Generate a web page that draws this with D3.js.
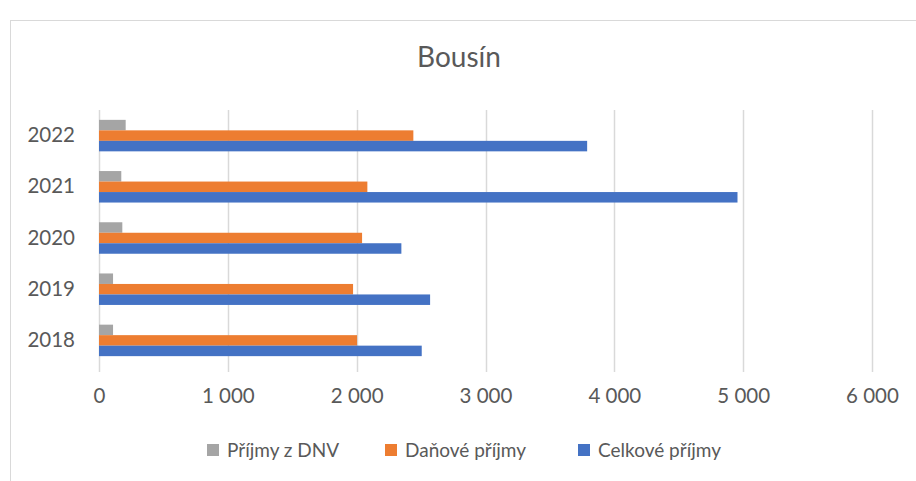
<!DOCTYPE html>
<html>
<head>
<meta charset="utf-8">
<script src="https://cdn.jsdelivr.net/npm/d3@7"></script>
<style>
  body { margin: 0; background: #fff; }
  svg { display: block; font-family: Lato, "Open Sans", sans-serif; }
</style>
</head>
<body>
<div class="chart"></div>
<script>
const years = ['2022', '2021', '2020', '2019', '2018'];
const seriesNames = ['Příjmy z DNV', 'Daňové příjmy', 'Celkové příjmy'];
const prijmyDNV = [207, 173, 181, 109, 109];
const danovePrijmy = [2440, 2083, 2042, 1972, 2003];
const celkovePrijmy = [3789, 4956, 2347, 2570, 2505];
const xTicks = [0, 1000, 2000, 3000, 4000, 5000, 6000];
const colors = ['#A5A5A5', '#ED7D31', '#4472C4'];

const W = 916, H = 481;
const margin = {top: 110, right: 44, bottom: 115, left: 99};
const graphWidth = W - margin.left - margin.right;
const graphHeight = H - margin.top - margin.bottom;

const svg = d3.select('.chart')
  .append('svg')
    .attr('width', W)
    .attr('height', H);

// chart border
svg.append('rect')
  .attr('x', 10.5).attr('y', 20.5)
  .attr('width', W).attr('height', H)
  .attr('fill', 'none')
  .attr('stroke', '#D9D9D9');

svg.append('text')
  .attr('x', 459).attr('y', 67)
  .attr('text-anchor', 'middle')
  .attr('font-size', 28)
  .attr('fill', '#595959')
  .text('Bousín');

const graph = svg.append('g')
  .attr('transform', `translate(${margin.left}, ${margin.top})`);

const x = d3.scaleLinear()
  .domain([0, 6000])
  .range([0, graphWidth]);

const y = d3.scaleBand()
  .domain(years)
  .range([0, graphHeight])
  .paddingInner(0.385)
  .paddingOuter(0.1925);

const yInner = d3.scaleBand()
  .domain(seriesNames)
  .range([0, y.bandwidth()]);

const locale = d3.formatLocale({decimal: ',', thousands: '\u00a0', grouping: [3], currency: ['', ' Kč']});
const fmt = locale.format(',d');

// gridlines
graph.append('g')
  .selectAll('line')
  .data(xTicks)
  .join('line')
    .attr('x1', d => Math.round(x(d)) + 0.5)
    .attr('x2', d => Math.round(x(d)) + 0.5)
    .attr('y1', 0)
    .attr('y2', graphHeight + 6)
    .attr('stroke', '#D9D9D9')
    .attr('stroke-width', 1.5);

const data = years.map((yr, i) => ({
  year: yr,
  values: [prijmyDNV[i], danovePrijmy[i], celkovePrijmy[i]]
}));

const groups = graph.selectAll('g.year')
  .data(data)
  .join('g')
    .attr('class', 'year')
    .attr('transform', d => `translate(0, ${y(d.year)})`);

groups.selectAll('rect')
  .data(d => d.values.map((v, j) => ({name: seriesNames[j], value: v, j})))
  .join('rect')
    .attr('x', x(0))
    .attr('y', d => yInner(d.name))
    .attr('width', d => x(d.value) - x(0))
    .attr('height', yInner.bandwidth())
    .attr('fill', d => colors[d.j]);

// axes
const xAxis = d3.axisBottom(x).tickValues(xTicks).tickFormat(fmt).tickSize(0).tickPadding(22);
const xAxisGroup = graph.append('g')
  .attr('transform', `translate(0, ${graphHeight})`)
  .call(xAxis);
xAxisGroup.select('.domain').remove();
xAxisGroup.selectAll('text')
  .attr('font-size', 20.5)
  .attr('fill', '#595959')
  .attr('font-family', 'Lato, sans-serif');

const yAxis = d3.axisLeft(y).tickSize(0).tickPadding(24);
const yAxisGroup = graph.append('g').call(yAxis);
yAxisGroup.select('.domain').remove();
yAxisGroup.selectAll('text')
  .attr('font-size', 20.5)
  .attr('fill', '#595959')
  .attr('font-family', 'Lato, sans-serif');

// legend
const legendX = [207, 385, 578];
const legend = svg.append('g')
  .selectAll('g')
  .data(seriesNames)
  .join('g')
    .attr('transform', (d, i) => `translate(${legendX[i]}, 444)`);
legend.append('rect')
  .attr('width', 12).attr('height', 12)
  .attr('fill', (d, i) => colors[i]);
legend.append('text')
  .attr('x', 20).attr('y', 13)
  .attr('font-size', 19)
  .attr('fill', '#595959')
  .text(d => d);
</script>
</body>
</html>
